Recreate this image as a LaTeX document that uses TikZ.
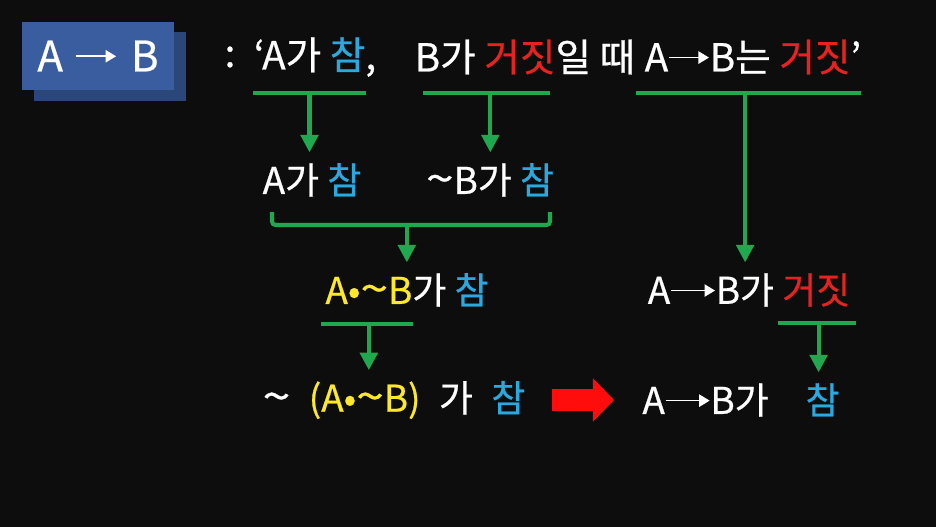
\documentclass[tikz,border=0pt]{standalone}
\usepackage{fontspec}
\usepackage{graphicx}
\setmainfont{Noto Sans CJK KR}[FakeBold=0.6]
\usetikzlibrary{arrows.meta, positioning, calc, shadows}

\definecolor{bgdark}{HTML}{0D0D0D}
\definecolor{boxblue}{HTML}{3A5DA0}
\definecolor{boxshade}{HTML}{2B4679}
\definecolor{tgreen}{HTML}{1FA84E}
\definecolor{tcyan}{HTML}{2AA8E0}
\definecolor{tred}{HTML}{E8231F}
\definecolor{tyellow}{HTML}{FDE82A}
\definecolor{fatred}{HTML}{FF0D0D}

\newcommand{\imp}[1][0.88cm]{\tikz[baseline=-0.36em]\draw[white, line width=0.9pt, -{Triangle[length=6pt,width=7pt]}] (0pt,0pt) -- (#1,0pt);}
\newcommand{\tld}{\scalebox{1.35}[1.15]{\textasciitilde}}
\newcommand{\cy}[1]{\textcolor{tcyan}{#1}}
\newcommand{\rd}[1]{\textcolor{tred}{#1}}
\newcommand{\yl}[1]{\textcolor{tyellow}{#1}}

\begin{document}
\begin{tikzpicture}[x=0.02cm, y=-0.02cm,
    txt/.style={text=white, inner sep=2pt, font=\fontsize{21pt}{25pt}\selectfont},
    toptxt/.style={txt, font=\fontsize{22pt}{26pt}\selectfont},
    titlebox/.style={fill=boxblue, minimum width=3.04cm, minimum height=1.38cm, text=white, font=\fontsize{24pt}{28pt}\selectfont, general shadow={fill=boxshade, shadow xshift=6.8pt, shadow yshift=-5.7pt}},
    gline/.style={draw=tgreen, line width=2.3pt},
    garrow/.style={gline, -{Triangle[length=10pt,width=10pt]}, shorten >=4pt},
    fatarrow/.style={draw=fatred, line width=13pt, -{Triangle[length=12pt,width=24pt]}}
]

\fill[bgdark] (0,0) rectangle (936,527);

% Titulo
\node[titlebox] (title) at (98,56) {A\hspace{7pt}\imp[0.8cm]\hspace{8pt}B};

% Linha de topo
\node[toptxt] (colon) at (230,57) {:};
\node[toptxt] (lead) at (315,57) {‘A가 \cy{참},};
\node[toptxt] (mid) at (525,57) {B가 \rd{거짓}일 때};
\node[toptxt] (tail) at (753,57) {A\imp[0.8cm]B는 \rd{거짓}’};

% Passos
\node[txt] (r2a) at (312,180) {A가 \cy{참}};
\node[txt] (r2b) at (490,180) {\tld B가 \cy{참}};
\node[txt] (r3a) at (407,290) {\yl{A•\tld B}가 \cy{참}};
\node[txt] (r3b) at (749,290) {A\imp B가 \rd{거짓}};
\node[txt] (r4a) at (394,400) {\tld\enspace\yl{(A•\tld B)}\enspace 가\enspace\cy{참}};
\node[txt] (r4b) at (741,400) {A\imp B가\quad\cy{참}};

% Barras
\coordinate (bar1w) at (253,93);  \coordinate (bar1e) at (366,93);
\coordinate (bar2w) at (423,93);  \coordinate (bar2e) at (550,93);
\coordinate (bar3w) at (636,93);  \coordinate (bar3e) at (861,93);
\coordinate (bar4w) at (321,324); \coordinate (bar4e) at (413,324);
\coordinate (bar5w) at (778,323); \coordinate (bar5e) at (856,323);
\coordinate (brl) at (272,212);   \coordinate (brr) at (550,212);

\draw[gline] (bar1w) -- (bar1e);
\draw[gline] (bar2w) -- (bar2e);
\draw[gline] (bar3w) -- (bar3e);
\draw[gline] (bar4w) -- (bar4e);
\draw[gline] (bar5w) -- (bar5e);
\draw[gline, rounded corners=2pt] (brl) -- ++(0,13) -| (brr);

\coordinate (bar1m) at ($(bar1w)!0.5!(bar1e)$);
\coordinate (bar2m) at ($(bar2w)!0.53!(bar2e)$);
\coordinate (bar3m) at ($(bar3w)!0.485!(bar3e)$);
\coordinate (bar4m) at ($(bar4w)!0.52!(bar4e)$);
\coordinate (bar5m) at ($(bar5w)!0.52!(bar5e)$);
\coordinate (brm) at ($(brl)!0.485!(brr)+(0,13)$);

% Setas
\draw[garrow] (bar1m) -- (bar1m |- r2a.north);
\draw[garrow] (bar2m) -- (bar2m |- r2b.north);
\draw[garrow] (bar3m) -- (bar3m |- r3b.north);
\draw[garrow] (brm) -- (brm |- r3a.north);
\draw[garrow] (bar4m) -- (bar4m |- r4a.north);
\draw[garrow] (bar5m) -- (bar5m |- r4b.north);
\draw[fatarrow, shorten <=13pt, shorten >=14pt] (r4a.east) -- (r4a.east -| r4b.west);

\end{tikzpicture}
\end{document}
